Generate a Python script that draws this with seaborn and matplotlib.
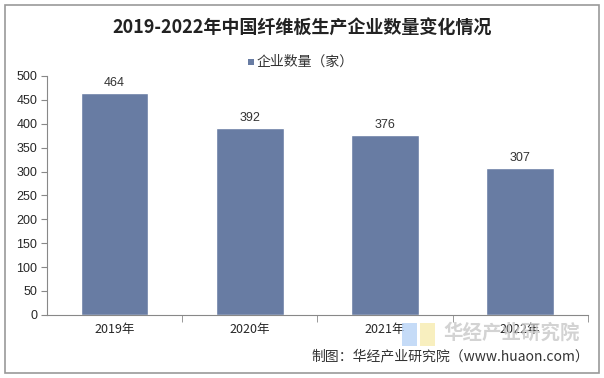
import matplotlib
matplotlib.use("Agg")
import matplotlib.pyplot as plt
import seaborn as sns
import pandas as pd
from matplotlib.patches import Rectangle

years = ["2019年", "2020年", "2021年", "2022年"]
counts = [464, 392, 376, 307]
series_name = "企业数量（家）"

sns.set_style("white")
plt.rcParams["font.family"] = ["Noto Sans CJK SC", "DejaVu Sans"]

df = pd.DataFrame({"年份": years, "数量": counts, "系列": series_name})

fig = plt.figure(figsize=(6.04, 3.78), dpi=100)
ax = fig.add_axes([0.078, 0.167, 0.895, 0.632])

bar_color = "#687ca3"
sns.barplot(data=df, x="年份", y="数量", hue="系列", palette=[bar_color],
            width=0.5, ax=ax, saturation=1, legend=False)

for i, v in enumerate(counts):
    ax.text(i, v + 8, str(v), ha="center", va="bottom", fontsize=9, color="#333333",
            family=["Liberation Sans", "DejaVu Sans"])

ax.set_ylim(0, 500)
ax.set_yticks(range(0, 501, 50))
ax.set_xlim(-0.5, 3.5)
ax.set_xlabel("")
ax.set_ylabel("")
ax.tick_params(axis="y", labelsize=9, length=4, color="#888888", left=True, pad=3)
ax.tick_params(axis="x", labelsize=9, length=0, pad=6)
for lbl in ax.get_yticklabels():
    lbl.set_family(["Liberation Sans", "DejaVu Sans"])

# category boundary tick marks on x axis
ax.set_xticks([0.5, 1.5, 2.5, 3.5], minor=True)
ax.tick_params(axis="x", which="minor", length=5, color="#888888", bottom=True)

for s in ["top", "right"]:
    ax.spines[s].set_visible(False)
for s in ["left", "bottom"]:
    ax.spines[s].set_color("#888888")
    ax.spines[s].set_linewidth(0.8)

fig.text(0.5, 0.925, "2019-2022年中国纤维板生产企业数量变化情况", ha="center", va="center",
         fontsize=13, fontweight="bold", color="#222222")

# legend
fig.patches.append(Rectangle((0.410, 0.828), 0.010, 0.016, transform=fig.transFigure,
                             facecolor=bar_color, edgecolor="none"))
fig.text(0.424, 0.836, series_name, ha="left", va="center", fontsize=10, color="#333333")

# watermark
fig.text(0.96, 0.118, "华经产业研究院", ha="right", va="center", fontsize=14,
         fontweight="bold", color="#c8c8c8", alpha=0.8)
fig.patches.append(Rectangle((0.665, 0.085), 0.025, 0.06, transform=fig.transFigure,
                             facecolor="#b7d3f5", edgecolor="none", alpha=0.8))
fig.patches.append(Rectangle((0.695, 0.085), 0.025, 0.06, transform=fig.transFigure,
                             facecolor="#f7ecb0", edgecolor="none", alpha=0.8))

fig.text(0.975, 0.058, "制图：华经产业研究院（www.huaon.com）", ha="right", va="center",
         fontsize=10, color="#333333")

# outer border
fig.patches.append(Rectangle((0.008, 0.013), 0.984, 0.974, transform=fig.transFigure,
                             fill=False, edgecolor="#999999", linewidth=1.2))

fig.savefig("out.png", dpi=100)
